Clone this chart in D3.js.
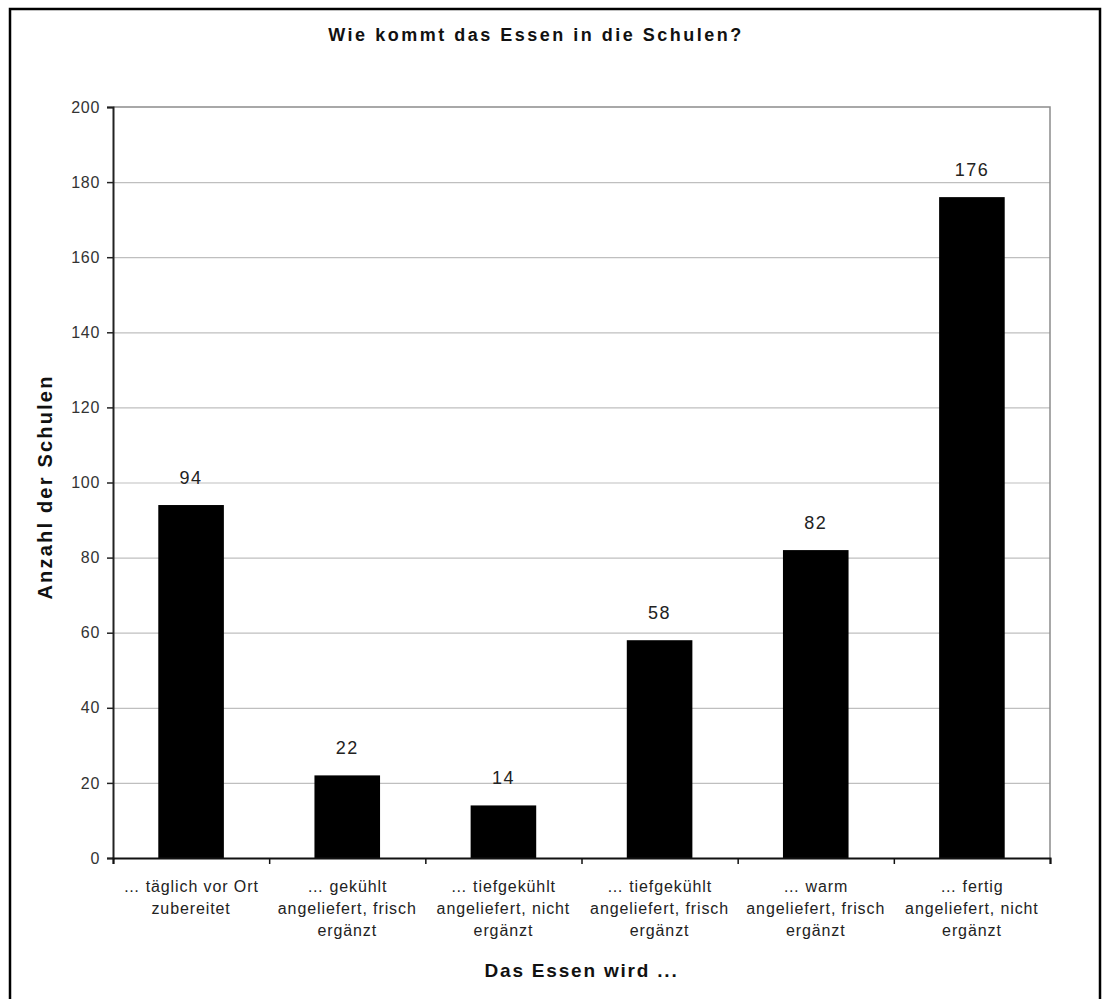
<!DOCTYPE html>
<html>
<head>
<meta charset="utf-8">
<script src="https://cdn.jsdelivr.net/npm/d3@7"></script>
<style>
  html, body { margin: 0; padding: 0; background: #fff; }
  svg { display: block; font-family: "Liberation Sans", Arial, sans-serif; }
</style>
</head>
<body>
<svg id="chart" width="1105" height="999"></svg>
<script>
const chartTitle = "Wie kommt das Essen in die Schulen?";
const xTitle = "Das Essen wird ...";
const yTitle = "Anzahl der Schulen";
const categories = [
  ["… täglich vor Ort", "zubereitet"],
  ["… gekühlt", "angeliefert, frisch", "ergänzt"],
  ["… tiefgekühlt", "angeliefert, nicht", "ergänzt"],
  ["… tiefgekühlt", "angeliefert, frisch", "ergänzt"],
  ["… warm", "angeliefert, frisch", "ergänzt"],
  ["… fertig", "angeliefert, nicht", "ergänzt"]
];
const values = [94, 22, 14, 58, 82, 176];
const yTicks = [0, 20, 40, 60, 80, 100, 120, 140, 160, 180, 200];

const svg = d3.select("#chart");
const M = { left: 113, right: 1050, top: 107, bottom: 858 };

// outer frame
svg.append("rect")
  .attr("x", 10).attr("y", 9).attr("width", 1090).attr("height", 1010)
  .attr("fill", "#fff").attr("stroke", "#000").attr("stroke-width", 2.5);

const keys = categories.map((c, i) => "c" + i);
const x = d3.scaleBand().domain(keys).range([M.left, M.right])
  .paddingInner(0.58).paddingOuter(0.29);
const xb = d3.scaleLinear().domain([0, categories.length]).range([M.left, M.right]);
const y = d3.scaleLinear().domain([0, 200]).range([M.bottom, M.top]);

// gridlines
const grid = svg.append("g")
  .attr("transform", `translate(${M.left},0)`)
  .call(d3.axisLeft(y).tickValues(yTicks.filter(t => t > 0 && t < 200)).tickSize(-(M.right - M.left)).tickFormat(""));
grid.select(".domain").remove();
grid.selectAll("line").attr("stroke", "#bfbfbf").attr("stroke-width", 1.2);

// plot border top/right
svg.append("path")
  .attr("d", `M${M.left},${y(200)}H${M.right}V${M.bottom}`)
  .attr("fill", "none").attr("stroke", "#8c8c8c").attr("stroke-width", 1.5);

// bars
svg.append("g").selectAll("rect").data(values).join("rect")
  .attr("x", (d, i) => x(keys[i]))
  .attr("width", x.bandwidth())
  .attr("y", d => y(d))
  .attr("height", d => y(0) - y(d))
  .attr("fill", "#000");

// data labels
svg.append("g").selectAll("text").data(values).join("text")
  .attr("x", (d, i) => x(keys[i]) + x.bandwidth() / 2)
  .attr("y", d => y(d) - 21)
  .attr("text-anchor", "middle")
  .attr("font-size", 18)
  .attr("letter-spacing", 1.5)
  .attr("fill", "#222")
  .text(d => d);

// y axis
const ya = svg.append("g")
  .attr("transform", `translate(${M.left},0)`)
  .call(d3.axisLeft(y).tickValues(yTicks).tickSize(6).tickPadding(7));
ya.select(".domain").attr("stroke", "#222").attr("stroke-width", 2);
ya.selectAll(".tick line").attr("stroke", "#222").attr("stroke-width", 1.5);
ya.selectAll(".tick text").attr("font-size", 16).attr("letter-spacing", 0.7)
  .attr("fill", "#333").attr("font-family", "Liberation Sans, Arial, sans-serif");

// x axis (category boundaries)
const xa = svg.append("g")
  .attr("transform", `translate(0,${M.bottom})`)
  .call(d3.axisBottom(xb).ticks(categories.length).tickSize(6).tickFormat(""));
xa.select(".domain").attr("stroke", "#111").attr("stroke-width", 2);
xa.selectAll(".tick line").attr("stroke", "#111").attr("stroke-width", 1.5);

// category labels
const cl = svg.append("g").selectAll("text").data(categories).join("text")
  .attr("x", (d, i) => x(keys[i]) + x.bandwidth() / 2)
  .attr("y", 892)
  .attr("text-anchor", "middle")
  .attr("font-size", 16)
  .attr("letter-spacing", 0.9)
  .attr("fill", "#222");
cl.selectAll("tspan").data(d => d).join("tspan")
  .attr("x", function() { return this.parentNode.getAttribute("x"); })
  .attr("dy", (d, i) => i === 0 ? 0 : 22)
  .text(d => d);

// titles
svg.append("text")
  .attr("x", 536).attr("y", 41)
  .attr("text-anchor", "middle")
  .attr("font-size", 18).attr("font-weight", "bold")
  .attr("letter-spacing", 2.5)
  .attr("fill", "#111")
  .text(chartTitle);

svg.append("text")
  .attr("x", (M.left + M.right) / 2).attr("y", 977)
  .attr("text-anchor", "middle")
  .attr("font-size", 19).attr("font-weight", "bold")
  .attr("letter-spacing", 1.8)
  .attr("fill", "#111")
  .text(xTitle);

svg.append("text")
  .attr("transform", `translate(52,${487}) rotate(-90)`)
  .attr("text-anchor", "middle")
  .attr("font-size", 20).attr("font-weight", "bold")
  .attr("letter-spacing", 2.2)
  .attr("fill", "#111")
  .text(yTitle);
</script>
</body>
</html>
